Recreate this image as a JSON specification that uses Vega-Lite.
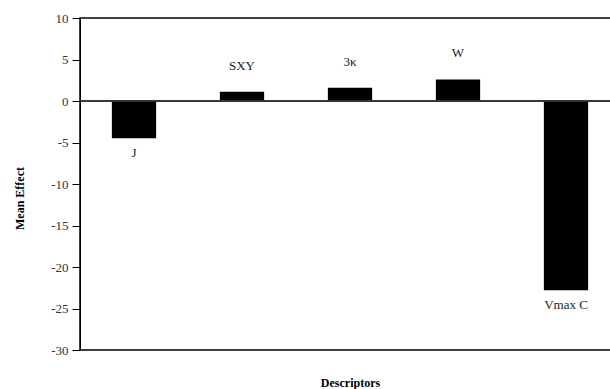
{
  "$schema": "https://vega.github.io/schema/vega-lite/v6.json",
  "width": 540,
  "height": 332,
  "autosize": "none",
  "padding": {"left": 80, "top": 18, "right": 0, "bottom": 39},
  "background": "white",
  "config": {
    "view": {"stroke": "black", "strokeWidth": 1.5},
    "font": "Liberation Serif"
  },
  "data": {
    "values": [
      {"descriptor": "J", "effect": -4.5},
      {"descriptor": "SXY", "effect": 1.1},
      {"descriptor": "3κ", "effect": 1.6},
      {"descriptor": "W", "effect": 2.6},
      {"descriptor": "Vmax C", "effect": -22.8}
    ]
  },
  "encoding": {
    "x": {
      "field": "descriptor",
      "type": "nominal",
      "sort": null,
      "scale": {"paddingInner": 0.59, "paddingOuter": 0.295},
      "axis": {
        "title": "Descriptors",
        "labels": false,
        "ticks": false,
        "domain": false,
        "titleFont": "Liberation Serif",
        "titleFontSize": 12,
        "titleFontWeight": "bold",
        "titleColor": "black",
        "titlePadding": 27
      }
    },
    "y": {
      "field": "effect",
      "type": "quantitative",
      "scale": {"domain": [-30, 10], "nice": false},
      "axis": {
        "title": "Mean Effect",
        "values": [-30, -25, -20, -15, -10, -5, 0, 5, 10],
        "labelExpr": "'' + datum.value",
        "grid": false,
        "domain": true,
        "domainColor": "black",
        "tickColor": "black",
        "tickSize": 8,
        "labelPadding": 4,
        "labelFont": "Liberation Serif",
        "labelFontSize": 13,
        "labelColor": "#333",
        "titleFont": "Liberation Serif",
        "titleFontSize": 12,
        "titleFontWeight": "bold",
        "titleColor": "black",
        "titlePadding": 24,
        "titleY": 180
      }
    }
  },
  "layer": [
    {
      "mark": {"type": "bar", "color": "black"}
    },
    {
      "mark": {"type": "rule", "color": "#333", "strokeWidth": 1},
      "encoding": {"y": {"datum": 0}, "x": {"value": 0}, "x2": {"value": 540}}
    },
    {
      "transform": [{"filter": "datum.effect >= 0"}],
      "mark": {"type": "text", "baseline": "middle", "dy": -26, "fontSize": 13, "font": "Liberation Serif", "color": "#222"},
      "encoding": {"text": {"field": "descriptor"}}
    },
    {
      "transform": [{"filter": "datum.effect < 0"}],
      "mark": {"type": "text", "baseline": "middle", "dy": 15, "fontSize": 13, "font": "Liberation Serif", "color": "#222"},
      "encoding": {"text": {"field": "descriptor"}}
    }
  ]
}
